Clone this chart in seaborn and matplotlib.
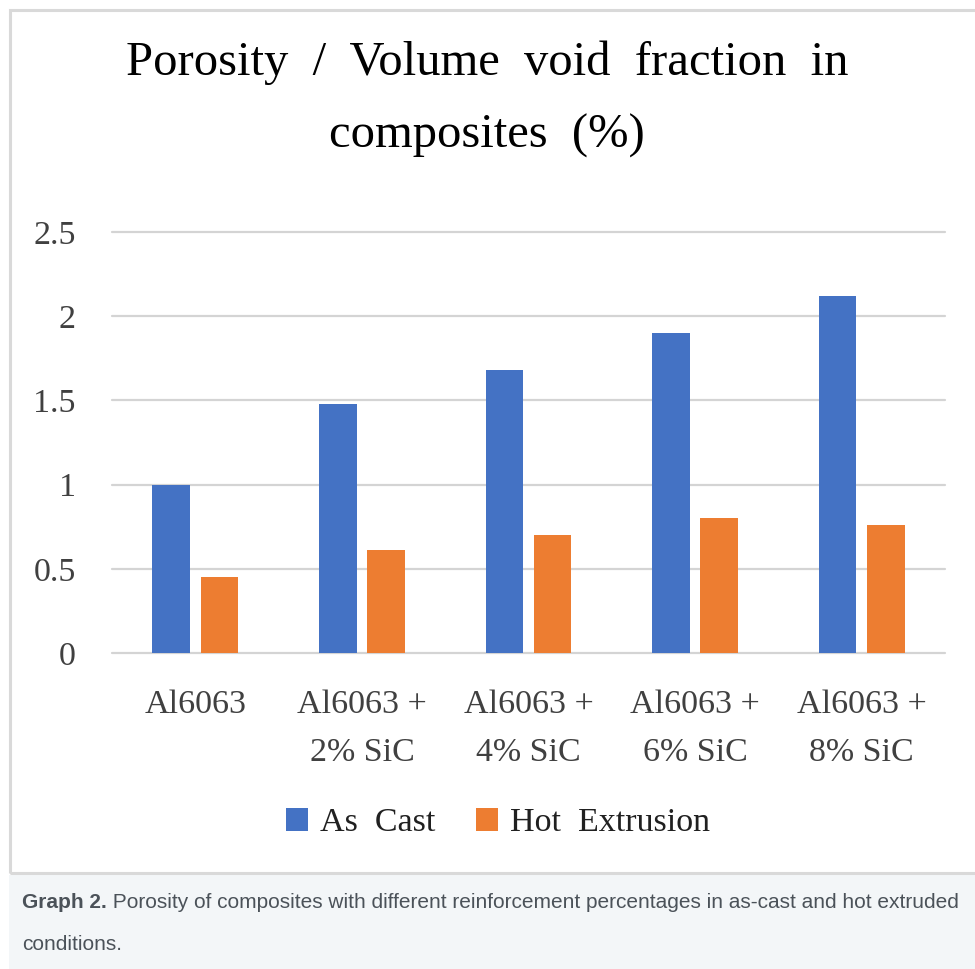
import matplotlib
matplotlib.use("Agg")
import matplotlib.pyplot as plt
from matplotlib.patches import Rectangle
import seaborn as sns
import pandas as pd

# ---- data ----
categories = ["Al6063", "Al6063 +\n2% SiC", "Al6063 +\n4% SiC", "Al6063 +\n6% SiC", "Al6063 +\n8% SiC"]
as_cast = [1.00, 1.48, 1.68, 1.90, 2.12]
hot_extrusion = [0.45, 0.61, 0.70, 0.80, 0.76]
series_names = ["As  Cast", "Hot  Extrusion"]
y_ticks = [0, 0.5, 1, 1.5, 2, 2.5]
y_tick_labels = ["0", "0.5", "1", "1.5", "2", "2.5"]
title_lines = ["Porosity  /  Volume  void  fraction  in", "composites  (%)"]
caption_bold = "Graph 2."
caption_rest = " Porosity of composites with different reinforcement percentages in as-cast and hot extruded"
caption_line2 = "conditions."

palette = ["#4472C4", "#ED7D31"]

df = pd.DataFrame({
    "Composite": categories * 2,
    "Condition": [series_names[0]] * len(categories) + [series_names[1]] * len(categories),
    "Porosity": as_cast + hot_extrusion,
})

sns.set_style("white")
plt.rcParams["font.family"] = ["Liberation Serif", "DejaVu Serif"]

W, H = 975, 969
fig = plt.figure(figsize=(W / 100, H / 100), dpi=100)
fig.patch.set_facecolor("white")

# caption panel and chart frame
fig.patches.append(Rectangle((9 / W, 0), 1.0, (H - 875) / H, transform=fig.transFigure,
                             facecolor="#f3f6f8", edgecolor="none", zorder=0))
fig.patches.append(Rectangle((10 / W, 1 - 873 / H), 1.0, (873 - 10) / H, transform=fig.transFigure,
                             fill=False, edgecolor="#d9d9d9", linewidth=2.2, zorder=1))

ax = fig.add_axes([112 / W, 1 - 653 / H, (945 - 112) / W, (653 - 232) / H])
ax.set_facecolor("none")

sns.barplot(data=df, x="Composite", y="Porosity", hue="Condition", palette=palette,
            width=0.58, gap=0.22, linewidth=0, saturation=1, ax=ax, errorbar=None)

ax.set_ylim(0, 2.5)
ax.set_xlim(-0.5, len(categories) - 0.5)
ax.set_yticks(y_ticks)
ax.set_yticklabels(y_tick_labels)
ax.set_xlabel("")
ax.set_ylabel("")
for s in ax.spines.values():
    s.set_visible(False)
ax.yaxis.grid(True, color="#d4d4d4", linewidth=1.6)
ax.xaxis.grid(False)
ax.set_axisbelow(True)
for gl in ax.get_ygridlines():
    gl.set_clip_on(False)
ax.tick_params(axis="y", length=0, pad=26, labelsize=24.5, labelcolor="#404040")
ax.tick_params(axis="x", length=0, pad=26, labelsize=24.5, labelcolor="#404040")
for lbl in ax.get_xticklabels():
    lbl.set_linespacing(1.75)

handles, labels = ax.get_legend_handles_labels()
if ax.legend_ is not None:
    ax.legend_.remove()
fig.legend(handles, labels, loc="center", bbox_to_anchor=(498 / W, 1 - 823 / H), ncol=2,
           frameon=False, fontsize=24.5, handlelength=0.65, handleheight=0.65,
           handletextpad=0.35, columnspacing=1.2, labelcolor="#202020")

# title
fig.text(487 / W, 1 - 75 / H, title_lines[0], ha="center", va="baseline", fontsize=35, color="black")
fig.text(487 / W, 1 - 148 / H, title_lines[1], ha="center", va="baseline", fontsize=35, color="black")

# caption
cap_color = "#4b5259"
cap_font = ["Liberation Sans", "DejaVu Sans"]
cap_size = 15
renderer = fig.canvas.get_renderer()
t_bold = fig.text(22 / W, 1 - 908 / H, caption_bold, ha="left", va="baseline", fontsize=cap_size,
                  fontweight="bold", family=cap_font, color=cap_color)
bb = t_bold.get_window_extent(renderer=renderer)
fig.text(bb.x1 / W, 1 - 908 / H, caption_rest, ha="left", va="baseline", fontsize=cap_size,
         family=cap_font, color=cap_color)
fig.text(22 / W, 1 - 950 / H, caption_line2, ha="left", va="baseline", fontsize=cap_size,
         family=cap_font, color=cap_color)

fig.savefig("out.png", dpi=100)
